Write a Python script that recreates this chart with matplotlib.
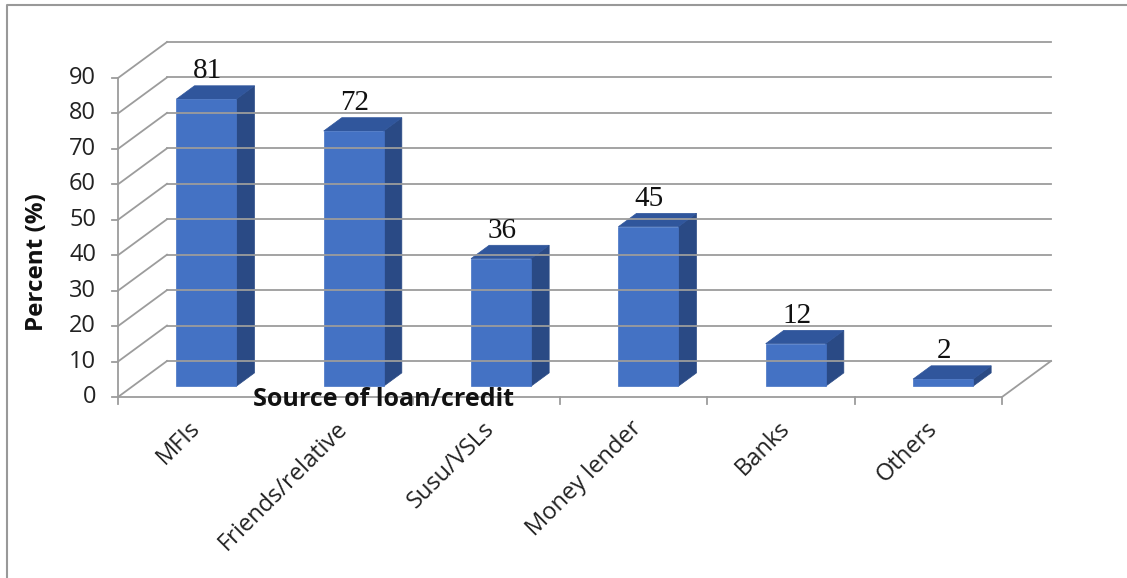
import matplotlib
matplotlib.use("Agg")
import matplotlib.pyplot as plt
from matplotlib.patches import Polygon
from matplotlib.lines import Line2D

# --- data -------------------------------------------------------------
categories = ["MFIs", "Friends/relative", "Susu/VSLs", "Money lender", "Banks", "Others"]
percent = [81, 72, 36, 45, 12, 2]
y_ticks = list(range(0, 100, 10))
y_max = 90

# --- figure / oblique projection setup --------------------------------
W, H, DPI = 1127, 578, 100
fig = plt.figure(figsize=(W / DPI, H / DPI), dpi=DPI)
fig.patch.set_facecolor("white")

ox, oy = 118, 397            # front-plane origin (px from left / top)
px_cat = 884 / len(categories)
px_val = 319 / y_max
depth_dx, depth_dy = 49, 36  # full depth offset in px

ax = fig.add_axes([0, 0, 1, 1])
ax.set_xlim(-ox / px_cat, (W - ox) / px_cat)
ax.set_ylim(-(H - oy) / px_val, oy / px_val)
ax.axis("off")

DX = depth_dx / px_cat
DY = depth_dy / px_val


def P(x, v, d):
    """Project (category position, value, depth 0..1) onto the 2D axes."""
    return (x + d * DX, v + d * DY)


grid_c = "#9C9C9C"
lw = 1.3
n = len(categories)
label_font = "Open Sans"
label_size = 17

# back wall gridlines and left wall diagonals
for v in y_ticks:
    a, b = P(0, v, 1), P(n, v, 1)
    ax.add_line(Line2D([a[0], b[0]], [a[1], b[1]], color=grid_c, lw=lw))
    a, b = P(0, v, 0), P(0, v, 1)
    ax.add_line(Line2D([a[0], b[0]], [a[1], b[1]], color=grid_c, lw=lw))
    # tick mark on the value axis
    ax.add_line(Line2D([a[0] - 6 / px_cat, a[0]], [a[1], a[1]], color=grid_c, lw=lw))
    ax.text(a[0] - 22 / px_cat, a[1], str(v), ha="right", va="center",
            fontsize=label_size, family=label_font, color="#222222")

# value axis line
a, b = P(0, 0, 0), P(0, y_max, 0)
ax.add_line(Line2D([a[0], b[0]], [a[1], b[1]], color=grid_c, lw=lw))

# floor front and right edges
f0, f1, f2 = P(0, 0, 0), P(n, 0, 0), P(n, 0, 1)
ax.add_line(Line2D([f0[0], f1[0], f2[0]], [f0[1], f1[1], f2[1]], color=grid_c, lw=lw))

# category ticks
for i in range(n + 1):
    p = P(i, 0, 0)
    ax.add_line(Line2D([p[0], p[0]], [p[1], p[1] - 7 / px_val], color=grid_c, lw=lw))

# --- bars --------------------------------------------------------------
front_c, top_c, side_c = "#4472C4", "#30569C", "#2A4A85"
bw = 60 / px_cat
d0, d1 = 0.30, 0.67

for i, val in enumerate(percent):
    cx = i + 0.5
    xl, xr = cx - bw / 2, cx + bw / 2
    front = [P(xl, 0, d0), P(xr, 0, d0), P(xr, val, d0), P(xl, val, d0)]
    side = [P(xr, 0, d0), P(xr, 0, d1), P(xr, val, d1), P(xr, val, d0)]
    top = [P(xl, val, d0), P(xr, val, d0), P(xr, val, d1), P(xl, val, d1)]
    for pts, c in ((side, side_c), (top, top_c), (front, front_c)):
        ax.add_patch(Polygon(pts, closed=True, facecolor=c, edgecolor=c, lw=0.5))
    lx = P(cx, val, d0)[0] + 1 / px_cat
    ly = P(cx, val, d1)[1]
    ax.annotate(str(val), (lx, ly), xytext=(0, 1), textcoords="offset points",
                ha="center", va="bottom", fontsize=21, family="Liberation Serif",
                color="#111111")
    # category label
    p = P(cx, 0, 0)
    ax.text(p[0] + 5 / px_cat, p[1] - 28 / px_val, categories[i], rotation=45,
            rotation_mode="anchor", ha="right", va="center", fontsize=label_size,
            family=label_font, color="#222222")

# axis titles
ax.text((383 - ox) / px_cat, (oy - 400) / px_val, "Source of loan/credit",
        ha="center", va="center", fontsize=18, fontweight="bold",
        family=label_font, color="#111111")
ax.text((37 - ox) / px_cat, (oy - 262) / px_val, "Percent (%)", rotation=90,
        ha="center", va="center", fontsize=17.5, fontweight="bold",
        family=label_font, color="#111111")

# chart border
fig.add_artist(Line2D([7 / W, 7 / W, 1.0], [0.0, 1 - 5 / H, 1 - 5 / H],
                      transform=fig.transFigure, color="#999999", lw=1.5))

fig.savefig("out.png", dpi=DPI, facecolor="white")
